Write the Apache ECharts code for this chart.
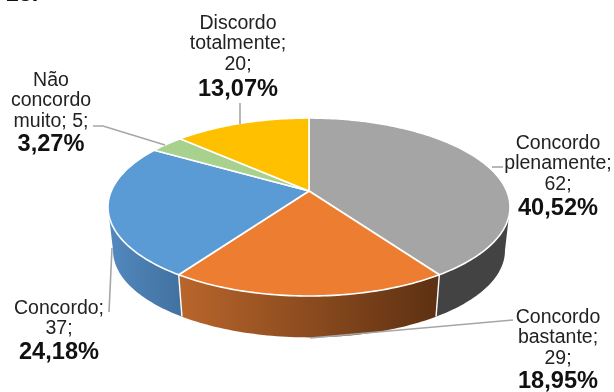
<!DOCTYPE html>
<html>
<head>
<meta charset="utf-8">
<style>html,body{margin:0;padding:0;background:#fff}#chart{width:614px;height:392px}</style>
<script src="https://cdn.jsdelivr.net/npm/echarts@6/dist/echarts.min.js"></script>
</head>
<body>
<div id="chart"></div>
<script>
// Survey answers, in clockwise order from the top of the pie
const categories = ['Concordo plenamente', 'Concordo bastante', 'Concordo', 'Não concordo muito', 'Discordo totalmente'];
const answerCounts = [62, 29, 37, 5, 20];
const labelLines = [
  ['Concordo', 'plenamente;', '62;'],
  ['Concordo', 'bastante;', '29;'],
  ['Concordo;', '37;'],
  ['Não', 'concordo', 'muito; 5;'],
  ['Discordo', 'totalmente;', '20;']
];

// Slice styling
const faceColors = ['#a5a5a5', '#ed7d31', '#5b9bd5', '#a9d18e', '#ffc000'];
const sideStops = [
  ['#434343', '#434343'],
  ['#b8652b', '#5e3112'],
  ['#41719f', '#5288bd'],
  ['#7f9c6a', '#7f9c6a'],
  ['#bf9000', '#bf9000']
];
const sideGradientSpan = [[440, 510], [182, 436], [182, 112], [150, 180], [180, 310]];

// Tilted disc: perspective projection of the unit circle
const disc = { cx: 309, cy: 191, a: 197.7, b: 86.1, k: 0.18, baseCy: 235, baseScale: 0.975 };

// Text blocks: centre x and baseline of the first line, line step, percent baseline
const labelLayout = [
  { x: 558, y: 148, step: 20.5, py: 215 },
  { x: 558, y: 322, step: 20.5, py: 388 },
  { x: 59, y: 313, step: 20.5, py: 359 },
  { x: 51, y: 85, step: 20.5, py: 151 },
  { x: 238, y: 28, step: 20.5, py: 95.5 }
];
const leaderPaths = [
  [[492, 167], [503, 167]],
  [[513, 320], [310, 338]],
  [[109, 312], [112, 248]],
  [[93, 126], [103, 126], [165, 145]],
  [[240, 103], [240, 124]]
];

const total = answerCounts.reduce((s, v) => s + v, 0);
const percentText = v => (v / total * 100).toFixed(2).replace('.', ',') + '%';
const cumulative = answerCounts.reduce((acc, v) => { acc.push(acc[acc.length - 1] + v); return acc; }, [0]);
const angleOf = c => c / total * Math.PI * 2;

// Angles where the wall turns away from the viewer
const frontStart = Math.acos(-disc.k);
const frontEnd = Math.PI * 2 - frontStart;

function rimPoint(theta, base) {
  const u = Math.sin(theta), v = -Math.cos(theta), w = 1 - disc.k * v;
  const s = base ? disc.baseScale : 1;
  return [disc.cx + s * disc.a * u / w, (base ? disc.baseCy : disc.cy) + s * disc.b * v / w];
}
function arc(t0, t1, base) {
  const n = Math.max(2, Math.ceil(Math.abs(t1 - t0) / 0.02));
  const pts = [];
  for (let i = 0; i <= n; i++) pts.push(rimPoint(t0 + (t1 - t0) * i / n, base));
  return pts;
}

function renderSide(params, api) {
  const i = params.dataIndex;
  const t0 = angleOf(cumulative[i]), t1 = angleOf(cumulative[i + 1]);
  const from = Math.max(t0, frontStart), to = Math.min(t1, frontEnd);
  if (from >= to) return { type: 'group', children: [] };
  const span = sideGradientSpan[i];
  const fill = new echarts.graphic.LinearGradient(span[0], 0, span[1], 0, [
    { offset: 0, color: sideStops[i][0] }, { offset: 1, color: sideStops[i][1] }
  ], true);
  const wall = arc(from, to, false).concat(arc(to, from, true));
  const children = [{ type: 'polygon', shape: { points: wall }, style: { fill: fill } }];
  if (t0 >= frontStart) {
    children.push({
      type: 'polyline',
      shape: { points: [rimPoint(t0, false), rimPoint(t0, true)] },
      style: { stroke: '#fff', lineWidth: 1.4, fill: 'none' }
    });
  }
  return { type: 'group', children: children };
}

function renderFace(params, api) {
  const i = params.dataIndex;
  const t0 = angleOf(cumulative[i]), t1 = angleOf(cumulative[i + 1]);
  const pts = [[disc.cx, disc.cy]].concat(arc(t0, t1, false));
  return {
    type: 'polygon',
    shape: { points: pts },
    style: { fill: faceColors[i], stroke: '#fff', lineWidth: 1.6, lineJoin: 'round' }
  };
}

function renderLeader(params) {
  return {
    type: 'polyline',
    shape: { points: leaderPaths[params.dataIndex] },
    style: { stroke: '#a6a6a6', lineWidth: 1.6, fill: 'none' }
  };
}

// Text sits on a baseline; zrender places it by its vertical middle
const textLine = (text, x, baseline, size, weight, fill) => ({
  type: 'text',
  style: {
    text: text, x: x, y: baseline - size * 0.35 + 2,
    align: 'center', verticalAlign: 'middle',
    font: weight + ' ' + size + 'px "Liberation Sans", Arial, sans-serif', fill: fill
  }
});

function renderLabel(params, api) {
  const i = params.dataIndex;
  const box = labelLayout[i];
  const children = labelLines[i].map((line, n) => textLine(line, box.x, box.y + n * box.step, 19.5, 'normal', '#222'));
  children.push(textLine(percentText(api.value(0)), box.x, box.py, 23.6, 'bold', '#111'));
  return { type: 'group', children: children };
}

const seriesData = answerCounts.map((v, i) => ({ name: categories[i], value: v }));
const layer = (renderItem, z) => ({
  type: 'custom', coordinateSystem: 'none', renderItem: renderItem,
  data: seriesData, silent: true, animation: false, z: z, clip: false
});

const chart = echarts.init(document.getElementById('chart'), null, { renderer: 'canvas' });
chart.setOption({
  backgroundColor: '#fff',
  animation: false,
  series: [layer(renderSide, 1), layer(renderFace, 2), layer(renderLeader, 3), layer(renderLabel, 4)],
  graphic: [Object.assign(textLine('13.', 22, 1, 23.6, 'bold', '#111'), { z: 5, silent: true })]
});
</script>
</body>
</html>
